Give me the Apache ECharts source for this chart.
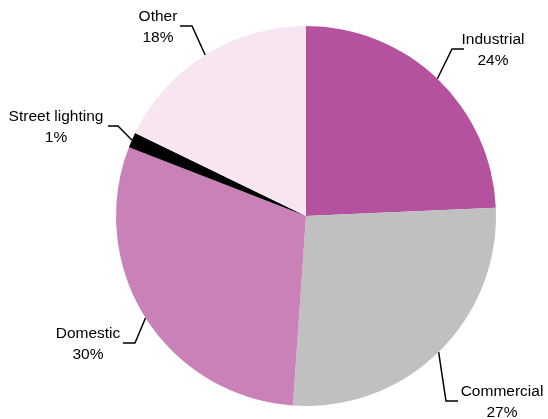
<!DOCTYPE html>
<html>
<head>
<meta charset="utf-8">
<script src="https://cdn.jsdelivr.net/npm/echarts@6/dist/echarts.min.js"></script>
<style>
html,body{margin:0;padding:0;background:#fff;}
#chart{width:548px;height:419px;}
</style>
</head>
<body>
<div id="chart"></div>
<script>
// Data
const categories = ['Industrial', 'Commercial', 'Domestic', 'Street lighting', 'Other'];
const shares = [24.3, 26.8, 29.8, 1.3, 17.8];
const colors = ['#b5529f', '#c0c0c0', '#c981b8', '#000000', '#f7e6f1'];

// Label placement (layout only): label centre, elbow point, end point of leader line
const labelPlacement = [
  { x: 493, y: 50,  elbow: [452, 49],  end: [464, 49] },
  { x: 502, y: 402, elbow: [446, 401], end: [458, 401] },
  { x: 88,  y: 344, elbow: [135, 343], end: [123, 343] },
  { x: 56,  y: 127, elbow: [118, 126], end: [108, 126] },
  { x: 158, y: 27,  elbow: [192, 26],  end: [180, 26] }
];

const chart = echarts.init(document.getElementById('chart'), null, { renderer: 'canvas' });
chart.setOption({
  animation: false,
  backgroundColor: '#ffffff',
  series: [{
    type: 'pie',
    center: [306, 216],
    radius: 190,
    startAngle: 90,
    clockwise: true,
    percentPrecision: 0,
    data: categories.map((c, i) => ({ name: c, value: shares[i], itemStyle: { color: colors[i] } })),
    label: {
      show: true,
      position: 'outside',
      formatter: '{b}\n{d}%',
      color: '#000',
      fontFamily: 'Liberation Sans, Arial, sans-serif',
      fontSize: 15.5,
      lineHeight: 21,
      align: 'center',
      overflow: 'none'
    },
    labelLine: {
      show: true,
      length: 20,
      length2: 10,
      lineStyle: { color: '#000', width: 1.5 }
    },
    labelLayout: function (params) {
      const p = labelPlacement[params.dataIndex];
      const anchor = params.labelLinePoints ? params.labelLinePoints[0] : [p.elbow[0], p.elbow[1]];
      return {
        x: p.x,
        y: p.y,
        align: 'center',
        verticalAlign: 'middle',
        labelLinePoints: [anchor, p.elbow, p.end]
      };
    },
    emphasis: { disabled: true }
  }]
});
</script>
</body>
</html>
